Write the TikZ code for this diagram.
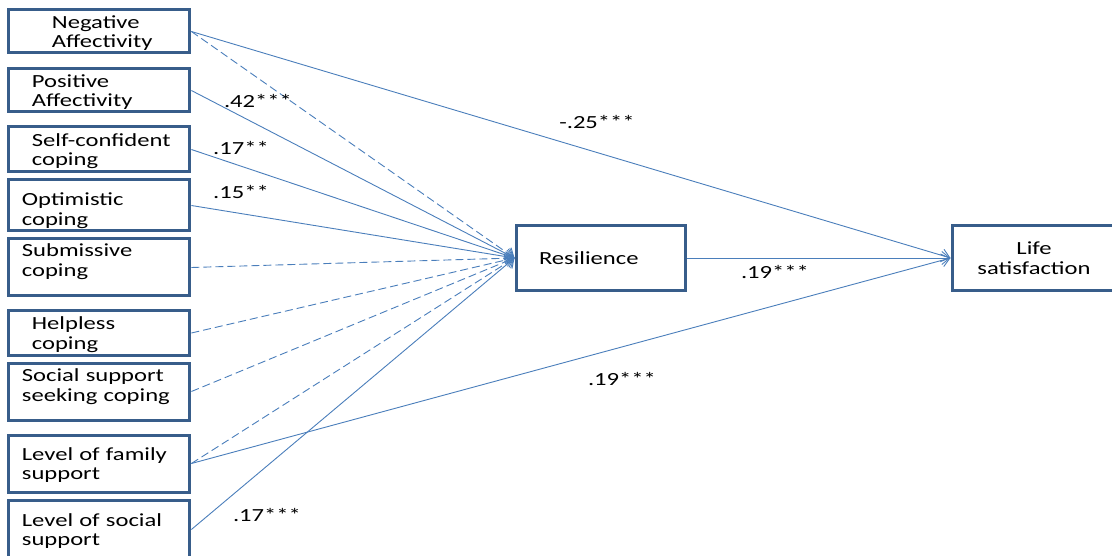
\documentclass[tikz,border=0pt]{standalone}
\usepackage{fontspec}
\setmainfont{Carlito}[FakeStretch=1.33]
\usetikzlibrary{arrows.meta}
\definecolor{boxblue}{HTML}{385D8A}
\definecolor{linkblue}{HTML}{4A7EBB}
\tikzset{
block/.style = {draw=boxblue, line width=3pt, fill=white, rectangle, minimum width=181pt, inner xsep=3pt, inner ysep=1pt, text width=175pt, align=left, font=\fontsize{18.5pt}{19.5pt}\selectfont},
predictor/.style = {block, text depth=19pt},
indent/.style = {execute at begin node={\leftskip=#1\relax}},
outcome/.style = {block, minimum width=180pt, text width=174pt, text depth=19pt, execute at begin node={\leftskip=0pt plus 1fil\rightskip=16pt plus 1fil\parfillskip=0pt\let\\\par}},
coef/.style = {inner sep=1pt, font=\fontsize{18.5pt}{19.5pt}\selectfont},
effect/.style = {draw=linkblue, line width=0.9pt, ->},
nseffect/.style = {effect, dash pattern=on 8pt off 4pt}
}
\begin{document}
\begin{tikzpicture}[x=1pt, y=-1pt, >={Straight Barb[length=8pt,width=13pt]}]
    \useasboundingbox (0,0) rectangle (1112,556);
    % predictors
    \node[predictor, indent=40pt, minimum height=43pt] (neg) at (99.4,31.5) {Negative\\Affectivity};
    \node[predictor, indent=20pt, minimum height=43pt] (pos) at (99.4,90.5) {Positive\\Affectivity};
    \node[predictor, indent=20pt, minimum height=45pt] (self) at (99.4,149.5) {Self-confident\\coping};
    \node[predictor, indent=10pt, minimum height=51pt, text depth=12.5pt] (opt) at (99.4,205.5) {Optimistic\\coping};
    \node[predictor, indent=10pt, minimum height=57pt, text depth=34pt] (sub) at (99.4,267.5) {Submissive\\coping};
    \node[predictor, indent=20pt, minimum height=44pt] (help) at (99.4,333) {Helpless\\coping};
    \node[predictor, indent=10pt, minimum height=57pt, text depth=32pt] (seek) at (99.4,391.5) {Social support\\seeking coping};
    \node[predictor, indent=10pt, minimum height=57pt] (fam) at (99.4,463.5) {Level of family\\support};
    \node[predictor, indent=10pt, minimum height=59pt] (soc) at (99.4,529.5) {Level of social\\support};
    % mediator and outcome
    \node[block, indent=20pt, minimum width=169pt, text width=163pt, minimum height=65pt] (res) at (600.5,258) {Resilience};
    \node[outcome, minimum height=65pt] (life) at (1042,258) {Life\\satisfaction};
    % paths
    \draw[effect] (neg.east) -- (life.west);
    \draw[nseffect] (neg.east) -- (res.west);
    \draw[effect] (pos.east) -- (res.west);
    \draw[effect] (self.east) -- (res.west);
    \draw[effect] (opt.east) -- (res.west);
    \draw[nseffect] (sub.east) -- (res.west);
    \draw[nseffect] (help.east) -- (res.west);
    \draw[nseffect] (seek.east) -- (res.west);
    \draw[nseffect] (fam.east) -- (res.west);
    \draw[effect] (fam.east) -- (life.west);
    \draw[effect] (soc.east) -- (res.west);
    \draw[effect] (res.east) -- (life.west);
    % coefficients
    \node[coef] (cpos) at (258,101) {.42***};
    \node[coef] (cself) at (241,148) {.17**};
    \node[coef] (copt) at (241,192) {.15**};
    \node[coef] (cneg) at (597,122) {-.25***};
    \node[coef] (cres) at (775,272) {.19***};
    \node[coef] (cfam) at (622,379) {.19***};
    \node[coef] (csoc) at (267,515) {.17***};
\end{tikzpicture}
\end{document}
